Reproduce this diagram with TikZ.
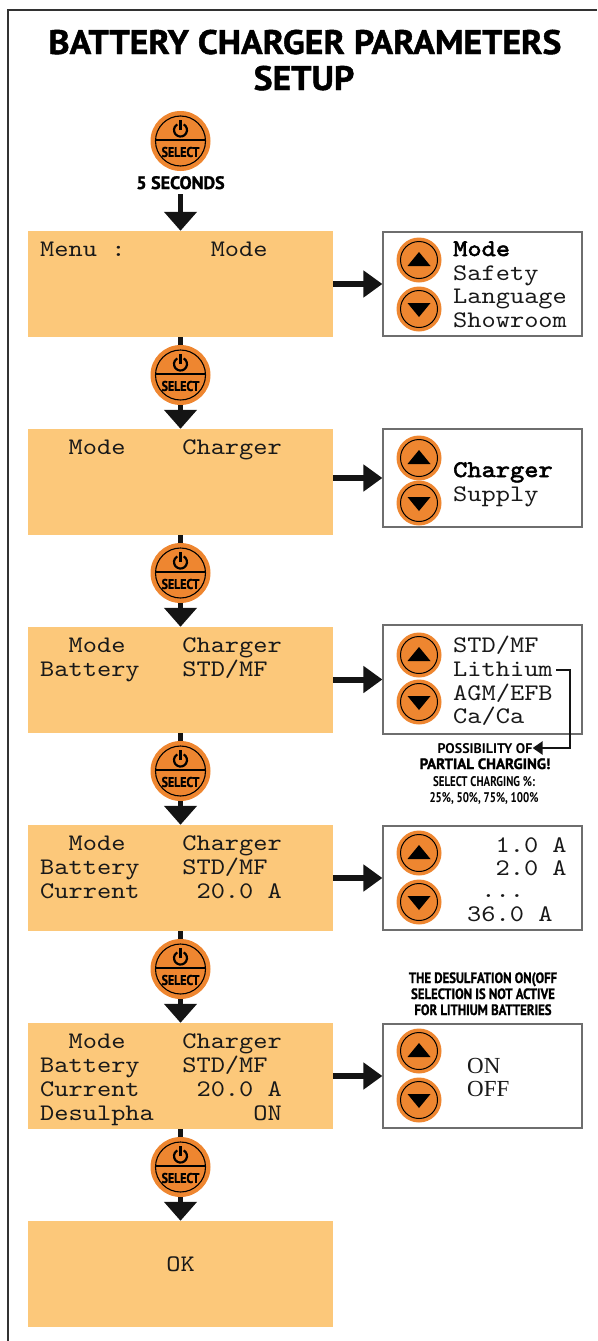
\documentclass[tikz,border=0pt]{standalone}
\usepackage{fontspec}
\newfontfamily\lcdfont[FakeStretch=1.14]{lmmono10-regular.otf}
\newfontfamily\lcdbold[FakeStretch=1.14,FakeBold=2.5]{lmmono10-regular.otf}
\newfontfamily\hdfont{PT Sans}
\newfontfamily\hdheavy[FakeBold=1.5]{PT Sans}
\newfontfamily\ttlfont[FakeBold=1.3,FakeStretch=1.05]{PT Sans}
\newfontfamily\cdfont[FakeStretch=0.78]{PT Sans}
\newfontfamily\cdheavy[FakeStretch=0.85,FakeBold=1]{PT Sans}
\newfontfamily\onfont{Liberation Serif}
\usetikzlibrary{arrows.meta}
\definecolor{lcdorange}{RGB}{252,200,122}
\definecolor{btnorange}{RGB}{238,134,48}
\definecolor{framegray}{RGB}{50,50,50}
\definecolor{boxgray}{RGB}{110,110,110}
\tikzset{
 lcd/.style={fill=lcdorange, draw=none, minimum width=305pt, minimum height=106pt, inner sep=0pt},
 optbox/.style={fill=white, draw=boxgray, line width=1.2pt, minimum width=199pt, inner sep=0pt},
 selbtn/.style={circle, fill=btnorange, minimum size=60pt, inner sep=0pt},
 udbtn/.style={circle, fill=btnorange, minimum size=45pt, inner sep=0pt},
 lcdtxt/.style={font=\lcdfont\fontsize{23.75}{24}\selectfont, anchor=base west, inner sep=0pt, text=black!90},
 lcdbtxt/.style={font=\lcdbold\fontsize{23.75}{24}\selectfont, anchor=base west, inner sep=0pt, text=black},
 ontxt/.style={font=\onfont\fontsize{23}{24}\selectfont, anchor=base west, inner sep=0pt, text=black!90},
 notea/.style={font=\hdfont\bfseries\fontsize{14}{14}\selectfont, anchor=base, inner sep=0pt},
 noteb/.style={font=\hdheavy\bfseries\fontsize{15}{15}\selectfont, anchor=base, inner sep=0pt},
 notec/.style={font=\cdfont\bfseries\fontsize{14}{14}\selectfont, anchor=base, inner sep=0pt},
 noted/.style={font=\cdheavy\bfseries\fontsize{15}{15}\selectfont, anchor=base, inner sep=0pt},
 vconn/.style={line width=5pt, black!92},
 varrow/.style={vconn, -{Triangle[width=32pt,length=19pt]}},
 harrow/.style={line width=6pt, black!92, -{Triangle[width=26pt,length=19pt]}},
 lconn/.style={line width=2.5pt, black!92, -{Triangle[width=13pt,length=10pt]}},
}
\newcommand\selbutton[3]{%
  \node[selbtn] (#1) at (#2,#3) {};
  \begin{scope}[shift={(#1.center)}, y=1pt]
    \draw[black, line width=1.1pt] (0,0) circle[radius=25pt];
    \draw[black, line width=1.1pt] (-25,1) -- (25,1);
    \draw[black, line width=2.2pt] (3.25,16.6) arc[start angle=60, end angle=-240, radius=6.5pt];
    \draw[black, line width=2.2pt] (0,11) -- (0,21);
    \node[font=\cdheavy\bfseries\fontsize{14}{14}\selectfont, inner sep=0pt] (#1t) at (0,-11) {SELECT};
  \end{scope}}
\newcommand\udbutton[4]{%
  \node[udbtn] (#1) at (#2,#3) {};
  \begin{scope}[shift={(#1.center)}, y=#4pt]
    \draw[black, line width=1pt] (0,0) circle[radius=18.5pt];
    \fill[black] (-11.5,-6) -- (11.5,-6) -- (0,8) -- cycle;
  \end{scope}}
\begin{document}
\begin{tikzpicture}[x=1pt,y=-1pt]
\useasboundingbox (0,0) rectangle (597,1341);
\draw[framegray, line width=2pt] (8,1341) -- (8,10) -- (597,10);
% title
\node[font=\ttlfont\bfseries\fontsize{34}{34}\selectfont, anchor=base, inner sep=0pt] (t1) at (305,54) {BATTERY CHARGER PARAMETERS};
\node[font=\ttlfont\bfseries\fontsize{34}{34}\selectfont, anchor=base, inner sep=0pt] (t2) at (304,90) {SETUP};
% first button
\selbutton{s1}{180.5}{141}
\node[font=\hdheavy\bfseries\fontsize{18}{18}\selectfont, anchor=base, inner sep=0pt, outer sep=5pt] (sec) at (180.5,189) {5 SECONDS};
% LCD boxes
\node[lcd] (b1) at (180.5,284) {};
\node[lcd] (b2) at (180.5,482) {};
\node[lcd] (b3) at (180.5,680) {};
\node[lcd] (b4) at (180.5,878) {};
\node[lcd] (b5) at (180.5,1076) {};
\node[lcd] (b6) at (180.5,1274) {};
% LCD texts
\node[lcdtxt] (b1a) at (40,256) {Menu~:~~~~~~Mode};
\node[lcdtxt] (b2a) at (40,454) {~~Mode~~~~Charger};
\node[lcdtxt] (b3a) at (40,652) {~~Mode~~~~Charger};
\node[lcdtxt] (b3b) at (40,676) {Battery~~~STD/MF};
\node[lcdtxt] (b4a) at (40,850) {~~Mode~~~~Charger};
\node[lcdtxt] (b4b) at (40,874) {Battery~~~STD/MF};
\node[lcdtxt] (b4c) at (40,898) {Current~~~~20.0~A};
\node[lcdtxt] (b5a) at (40,1048) {~~Mode~~~~Charger};
\node[lcdtxt] (b5b) at (40,1072) {Battery~~~STD/MF};
\node[lcdtxt] (b5c) at (40,1096) {Current~~~~20.0~A};
\node[lcdtxt] (b5d) at (40,1120) {Desulpha~~~~~~~ON};
\node[lcdtxt, anchor=base] (b6a) at (180.5,1271) {OK};
% select buttons between boxes
\draw[vconn] (b1.south) -- (180.5,360);
\draw[vconn] (b2.south) -- (180.5,558);
\draw[vconn] (b3.south) -- (180.5,756);
\draw[vconn] (b4.south) -- (180.5,954);
\draw[vconn] (b5.south) -- (180.5,1152);
\selbutton{s2}{180.5}{375}
\selbutton{s3}{180.5}{573}
\selbutton{s4}{180.5}{771}
\selbutton{s5}{180.5}{969}
\selbutton{s6}{180.5}{1167}
\draw[varrow] (sec.south) -- (b1.north);
\draw[varrow] (s2.south) -- (b2.north);
\draw[varrow] (s3.south) -- (b3.north);
\draw[varrow] (s4.south) -- (b4.north);
\draw[varrow] (s5.south) -- (b5.north);
\draw[varrow] (s6.south) -- (b6.north);
% option boxes
\node[optbox, minimum height=104pt] (r1) at (482.5,284) {};
\node[optbox, minimum height=98pt] (r2) at (482.5,478) {};
\node[optbox, minimum height=109pt] (r3) at (482.5,679.5) {};
\node[optbox, minimum height=104pt] (r4) at (482.5,878) {};
\node[optbox, minimum height=104pt] (r5) at (482.5,1076) {};
\draw[harrow] (r1.west -| b1.east) -- (r1.west);
\draw[harrow] (r2.west -| b2.east) -- (r2.west);
\draw[harrow] (r3.west -| b3.east) -- (r3.west);
\draw[harrow] (r4.west -| b4.east) -- (r4.west);
\draw[harrow] (r5.west -| b5.east) -- (r5.west);
% up/down buttons
\udbutton{u1}{419}{260}{1}
\udbutton{d1}{419}{309}{-1}
\udbutton{u2}{419}{458}{1}
\udbutton{d2}{419}{503}{-1}
\udbutton{u3}{419}{655}{1}
\udbutton{d3}{419}{702}{-1}
\udbutton{u4}{419}{853}{1}
\udbutton{d4}{419}{902}{-1}
\udbutton{u5}{419}{1051}{1}
\udbutton{d5}{419}{1100}{-1}
% option texts
\node[lcdbtxt] (r1a) at (453,256) {Mode};
\node[lcdtxt] (r1b) at (453,280) {Safety};
\node[lcdtxt] (r1c) at (453,303) {Language};
\node[lcdtxt] (r1d) at (453,327) {Showroom};
\node[lcdbtxt] (r2a) at (453,477) {Charger};
\node[lcdtxt] (r2b) at (453,501) {Supply};
\node[lcdtxt] (r3a) at (453,652) {STD/MF};
\node[lcdtxt] (r3b) at (453,676) {Lithium};
\node[lcdtxt] (r3c) at (453,700) {AGM/EFB};
\node[lcdtxt] (r3d) at (453,723) {Ca/Ca};
\node[lcdtxt] (r4a) at (467,852) {~~1.0~A};
\node[lcdtxt] (r4b) at (467,875) {~~2.0~A};
\node[lcdtxt] (r4c) at (467,897) {~...};
\node[lcdtxt] (r4d) at (467,921) {36.0~A};
\node[ontxt] (r5a) at (467,1073) {ON};
\node[ontxt] (r5b) at (467,1096) {OFF};
% partial charging note
\node[notea] (n1) at (485,753) {POSSIBILITY OF};
\node[noteb] (n2) at (485,769) {PARTIAL CHARGING!};
\node[notec] (n3) at (484,786) {SELECT CHARGING \%:};
\node[notec] (n4) at (484,802) {25\%, 50\%, 75\%, 100\%};
\coordinate (lita) at (556,670);
\coordinate (litb) at (570,748);
\draw[lconn] (lita) -| (litb) -- (litb -| n1.east);
% desulfation note
\node[noted] (m1) at (483,983) {THE DESULFATION ON(OFF};
\node[noted] (m2) at (483,999) {SELECTION IS NOT ACTIVE};
\node[noted] (m3) at (483,1015) {FOR LITHIUM BATTERIES};
\end{tikzpicture}
\end{document}
